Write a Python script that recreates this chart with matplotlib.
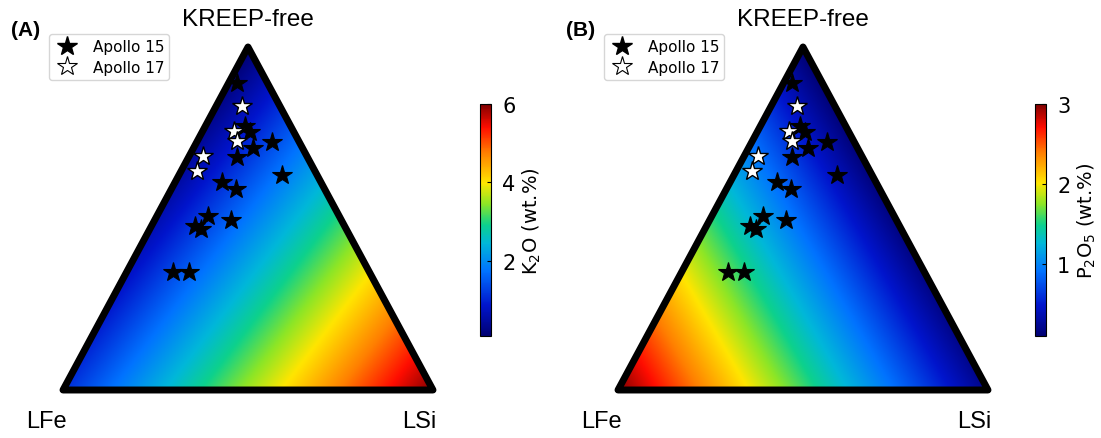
import matplotlib
matplotlib.use('Agg')

import numpy as np
import matplotlib.pyplot as plt
from matplotlib.patches import Polygon
from matplotlib.lines import Line2D
from matplotlib.colors import LinearSegmentedColormap

# ternary fractions (KREEP-free, LSi; LFe is the rest)
ap15_top = [0.895, 0.770, 0.752, 0.706, 0.723, 0.679, 0.627, 0.606, 0.586,
            0.507, 0.496, 0.478, 0.469, 0.344, 0.344]
ap15_lsi = [0.023, 0.107, 0.129, 0.161, 0.203, 0.130, 0.279, 0.127, 0.175,
            0.138, 0.206, 0.118, 0.138, 0.125, 0.169]
ap17_top = [0.828, 0.755, 0.726, 0.682, 0.638]
ap17_lsi = [0.070, 0.084, 0.107, 0.037, 0.043]

# end-member concentrations at the corners (KREEP-free, LFe, LSi)
k2o_ends = [0.08, 1.1, 6.0]
p2o5_ends = [0.1, 3.0, 0.2]

panels = ["(A)", "(B)"]
cb_labels = [r"K$_2$O (wt.%)", r"P$_2$O$_5$ (wt.%)"]
cb_ticks = [[2, 4, 6], [1, 2, 3]]
corner_names = ["KREEP-free", "LFe", "LSi"]

# jet-like rainbow, a bit softer in the cyan part
cmap = LinearSegmentedColormap.from_list("soft_jet", [
    (0.00, (0.00, 0.00, 0.45)),
    (0.13, (0.00, 0.08, 0.80)),
    (0.28, (0.00, 0.45, 1.00)),
    (0.40, (0.00, 0.72, 0.85)),
    (0.48, (0.05, 0.82, 0.55)),
    (0.57, (0.55, 0.90, 0.15)),
    (0.66, (1.00, 0.90, 0.00)),
    (0.79, (1.00, 0.50, 0.00)),
    (0.90, (1.00, 0.05, 0.00)),
    (1.00, (0.50, 0.00, 0.00))])

sans = ['Liberation Sans', 'DejaVu Sans']


def to_xy(top, lsi):
    top = np.asarray(top)
    lsi = np.asarray(lsi)
    return lsi + 0.5 * top, top


W, H = 1101, 439
fig = plt.figure(figsize=(W / 100, H / 100), dpi=100)

# pixel geometry of each panel: triangle left x, colorbar left x
offsets = [(63, 480), (618, 1035)]

n = 600
gx, gy = np.meshgrid(np.linspace(0, 1, n), np.linspace(0, 1, n))
g_top = gy
g_lsi = gx - 0.5 * gy
g_lfe = 1 - g_top - g_lsi

for i, ends in enumerate([k2o_ends, p2o5_ends]):
    tx, cx = offsets[i]
    ax = fig.add_axes([tx / W, (H - 391) / H, 370 / W, 343 / H])
    ax.set_xlim(0, 1)
    ax.set_ylim(0, 1)
    ax.axis('off')

    field = ends[0] * g_top + ends[1] * g_lfe + ends[2] * g_lsi
    im = ax.imshow(field, extent=[0, 1, 0, 1], origin='lower', cmap=cmap,
                   vmin=min(ends), vmax=max(ends), aspect='auto',
                   interpolation='bilinear')
    tri = Polygon([[0, 0], [1, 0], [0.5, 1]], closed=True, fc='none',
                  ec='black', lw=5, joinstyle='round', clip_on=False,
                  zorder=3)
    ax.add_patch(tri)
    clip = Polygon([[0, 0], [1, 0], [0.5, 1]], closed=True,
                   transform=ax.transData)
    im.set_clip_path(clip)

    x15, y15 = to_xy(ap15_top, ap15_lsi)
    x17, y17 = to_xy(ap17_top, ap17_lsi)
    ax.plot(x15, y15, '*', ms=14.5, mfc='black', mec='black', mew=0.8,
            ls='none', clip_on=False, zorder=4)
    ax.plot(x17, y17, '*', ms=14.5, mfc='white', mec='black', mew=1.0,
            ls='none', clip_on=False, zorder=5)

    ax.text(0.5, 1.082, corner_names[0], ha='center', va='center',
            fontsize=17.5, family=sans)
    ax.text(-0.046, -0.09, corner_names[1], ha='center', va='center',
            fontsize=17, family=sans)
    ax.text(0.962, -0.09, corner_names[2], ha='center', va='center',
            fontsize=17, family=sans)

    fig.text((tx - 37) / W, (H - 31) / H, panels[i], ha='center',
             va='center', fontsize=15, fontweight='bold', family=sans)

    handles = [Line2D([], [], marker='*', ls='none', ms=15, mfc='black',
                      mec='black'),
               Line2D([], [], marker='*', ls='none', ms=15, mfc='white',
                      mec='black', mew=0.8)]
    fig.legend(handles, ['Apollo 15', 'Apollo 17'], loc='upper left',
               bbox_to_anchor=((tx - 14) / W, (H - 35) / H), fontsize=11,
               frameon=True, borderpad=0.35, handletextpad=0.9,
               labelspacing=0.35, handlelength=1.6, borderaxespad=0)

    cax = fig.add_axes([cx / W, (H - 337) / H, 11 / W, 232 / H])
    cb = fig.colorbar(im, cax=cax, ticks=cb_ticks[i])
    cb.ax.tick_params(labelsize=15, direction='in', length=3, pad=8)
    cb.set_label(cb_labels[i], fontsize=14)

plt.savefig("out.png", dpi=100)
